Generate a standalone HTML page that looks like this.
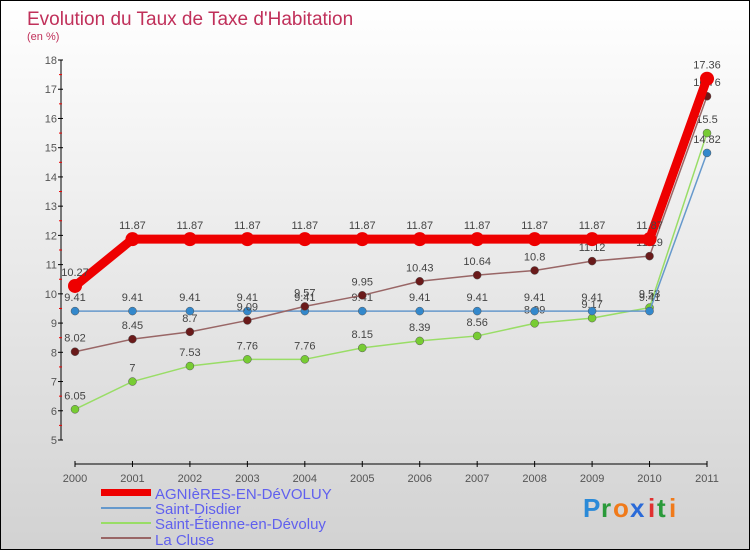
<!DOCTYPE html>
<html><head><meta charset="utf-8"><style>
body{margin:0}
#c{width:748px;height:548px;border:1px solid #000;background:linear-gradient(#fff,#d2d2d2);position:relative;font-family:"Liberation Sans",sans-serif}
svg text{font-family:"Liberation Sans",sans-serif}
</style></head><body>
<div id="c">
<svg id="s" width="748" height="548">
<text x="26" y="24" font-size="19" fill="#c0305a">Evolution du Taux de Taxe d'Habitation</text>
<text x="26" y="39" font-size="11" fill="#c0305a">(en %)</text>
<g id="ax"></g><g id="ser"></g>
<g>
<rect x="100" y="488" width="50" height="7" fill="#e00"/>
<text x="154" y="498" font-size="15" fill="#6060ee">AGNIèRES-EN-DéVOLUY</text>
<line x1="100" x2="150" y1="507" y2="507" stroke="#6699cc" stroke-width="2"/>
<text x="154" y="513" font-size="15" fill="#6060ee">Saint-Disdier</text>
<line x1="100" x2="150" y1="522" y2="522" stroke="#99dd66" stroke-width="2"/>
<text x="154" y="528" font-size="15" fill="#6060ee">Saint-Étienne-en-Dévoluy</text>
<line x1="100" x2="150" y1="537" y2="537" stroke="#996666" stroke-width="2"/>
<text x="154" y="544" font-size="15" fill="#6060ee">La Cluse</text>
</g>
<g font-size="26" font-weight="bold">
<text x="582" y="516" fill="#2a8ad8">P</text><text x="600" y="516" fill="#2a9a3a">r</text><text x="612" y="516" fill="#f07a1a">o</text><text x="629" y="516" fill="#2a6ad8">x</text><text x="647" y="516" fill="#e03030">i</text><text x="656" y="516" fill="#2a9a3a">t</text><text x="668" y="516" fill="#f07a1a">i</text>
</g>
</svg></div>
<script>
const years=["2000","2001","2002","2003","2004","2005","2006","2007","2008","2009","2010","2011"];
const agnieres=[10.27,11.87,11.87,11.87,11.87,11.87,11.87,11.87,11.87,11.87,11.87,17.36];
const saintDisdier=[9.41,9.41,9.41,9.41,9.41,9.41,9.41,9.41,9.41,9.41,9.41,14.82];
const saintEtienne=[6.05,7,7.53,7.76,7.76,8.15,8.39,8.56,8.99,9.17,9.53,15.5];
const laCluse=[8.02,8.45,8.7,9.09,9.57,9.95,10.43,10.64,10.8,11.12,11.29,16.76];
const yTicks=[5,6,7,8,9,10,11,12,13,14,15,16,17,18];
const NS="http://www.w3.org/2000/svg";
const X=i=>74+i*(632/11), Y=v=>439-(v-5)*(380/13);
function mk(t,a,p){const e=document.createElementNS(NS,t);for(const k in a)e.setAttribute(k,a[k]);p.appendChild(e);return e;}
const ax=document.getElementById('ax');
let l=mk('line',{x1:60,x2:60,y1:Y(18),y2:Y(5),stroke:'#000'},ax);


yTicks.forEach(v=>{mk('line',{x1:57,x2:62,y1:Y(v),y2:Y(v),stroke:'#000'},ax);
 if(v<18)mk('line',{x1:58,x2:61,y1:Y(v+0.5),y2:Y(v+0.5),stroke:'#e00'},ax);
 const t=mk('text',{x:56,y:Y(v)+4,'font-size':11,fill:'#555','text-anchor':'end'},ax);t.textContent=v;
 
 });
l=mk('line',{x1:X(0),x2:X(11),y1:463,y2:463,stroke:'#000'},ax);


years.forEach((y,i)=>{mk('line',{x1:X(i),x2:X(i),y1:460,y2:466,stroke:'#000'},ax);
 const t=mk('text',{x:X(i),y:481,'font-size':11,fill:'#555','text-anchor':'middle'},ax);t.textContent=y;
 
 });
const ser=document.getElementById('ser');
function draw(vals,name,stroke,w,fill,r){
 const g=mk('g',{},ser);
 
 
 mk('polyline',{points:vals.map((v,i)=>X(i)+','+Y(v)).join(' '),fill:'none',stroke:stroke,'stroke-width':w,'stroke-linejoin':'round'},g);
 vals.forEach((v,i)=>{const c=mk('circle',{cx:X(i),cy:Y(v),r:r,fill:fill,stroke:r<6?'#555':'none','stroke-width':0.5},g);
  
  
  const t=mk('text',{x:X(i),y:Y(v)-10,'font-size':11,fill:'#444','text-anchor':'middle'},g);t.textContent=v;
  
  });
}
draw(saintEtienne,'saint-etienne','#99dd66',1.5,'#77cc33',4);
draw(saintDisdier,'saint-disdier','#6699cc',1.5,'#3388cc',4);
draw(laCluse,'la-cluse','#996666',1.5,'#6a1a1a',4);
draw(agnieres,'agnieres','#ee0000',9,'#ee0000',7);
</script>
</body></html>
